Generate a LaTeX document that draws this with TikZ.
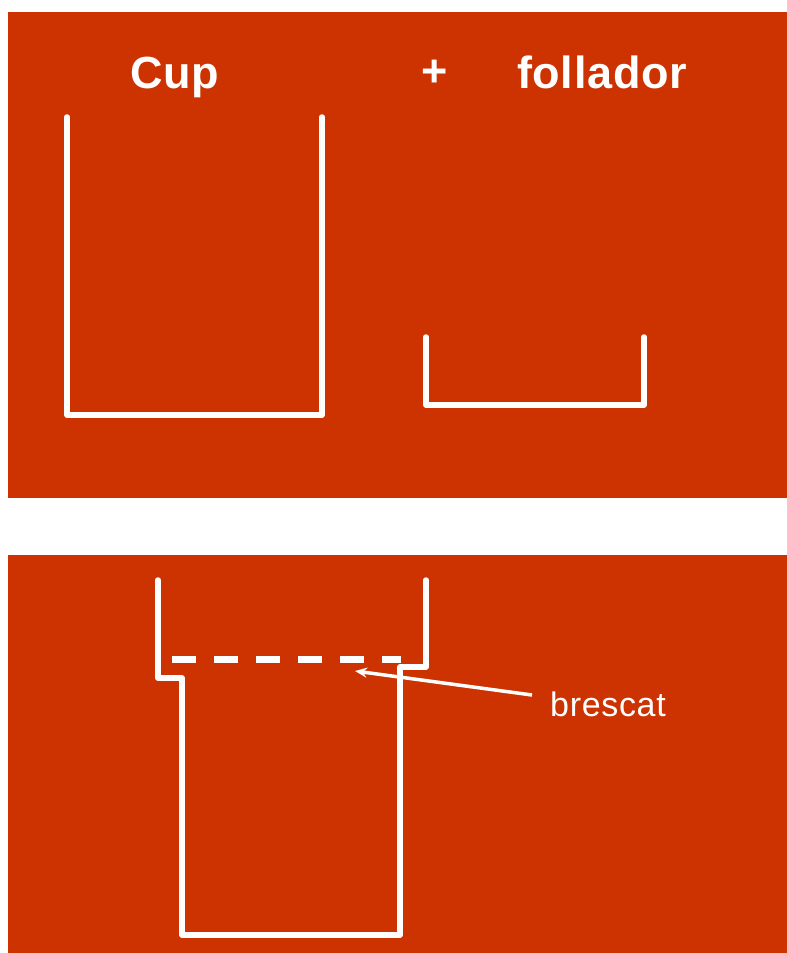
\documentclass[tikz,border=0pt]{standalone}
\usepackage{fontspec}
\setmainfont{Liberation Sans}
\usetikzlibrary{arrows.meta}
\definecolor{panelred}{HTML}{CC3300}
\tikzset{
  panel/.style={fill=panelred, draw=none},
  wall/.style={draw=white, line width=5.5pt, line cap=round, line join=round},
  seam/.style={draw=white, line width=7pt, dash pattern=on 24pt off 18pt},
  pointer/.style={draw=white, line width=3.5pt, -{Stealth[length=12pt,width=10pt]}},
  title/.style={text=white, inner sep=0pt, font=\fontsize{45}{52}\selectfont\bfseries\addfontfeatures{LetterSpace=1.5}},
  label/.style={text=white, inner sep=0pt, font=\fontsize{34}{40}\selectfont\addfontfeatures{LetterSpace=2}}
}
\begin{document}
\begin{tikzpicture}[x=1pt, y=-1pt]
\useasboundingbox (0,0) rectangle (787,953);
\fill[white] (0,0) rectangle (787,953);
\path[panel] (8,12) rectangle (787,498);
\path[panel] (8,555) rectangle (787,953);
% titles
\node[title, anchor=base west] (cup) at (130,88) {Cup};
\node[title, anchor=center] (plus) at (435,73) {+};
\node[title, anchor=base west] (foll) at (517,88) {follador};
% cup
\path[wall] (67,117) -- (67,415) -- (322,415) -- (322,117);
% follador
\path[wall] (426,337) -- (426,405) -- (644,405) -- (644,337);
% assembled
\path[wall] (158,580) -- (158,678) -- (182,678) -- (182,935) -- (400,935) -- (400,667) -- (426,667) -- (426,580);
\path[seam] (172,659) -- (401,659);
% label and arrow
\node[label, anchor=base west] (bres) at (550,716) {brescat};
\coordinate (tail) at (532,695);
\coordinate (tip) at (355,671);
\path[pointer] (tail) -- (tip);
\end{tikzpicture}
\end{document}
